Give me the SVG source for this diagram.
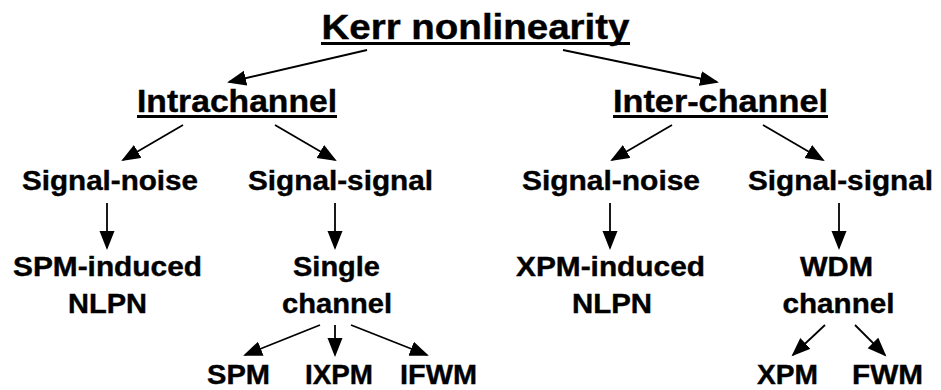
<svg xmlns="http://www.w3.org/2000/svg" width="941" height="390" viewBox="0 0 941 390">
  <style>
    text { font-family: "Liberation Sans", Arial, sans-serif; font-weight: bold; fill: #000; stroke: #000; stroke-width: 0.4; text-anchor: middle; }
    .t0 { font-size: 35px; }
    .t1 { font-size: 32px; }
    .t2 { font-size: 28px; }
    .ul { fill: #000; }
    .conn line { stroke: #000; stroke-width: 1.8; marker-end: url(#ah); }
  </style>
  <defs>
    <marker id="ah" markerUnits="userSpaceOnUse" markerWidth="20" markerHeight="16" refX="17" refY="7.5" orient="auto">
      <path d="M0,0 L19,7.5 L0,15 z" fill="#000"/>
    </marker>
  </defs>
  <rect width="941" height="390" fill="#fff"/>

  <g id="kerr">
    <text class="t0" x="475.5" y="39" textLength="308" lengthAdjust="spacingAndGlyphs">Kerr nonlinearity</text>
    <rect class="ul" x="321" y="42" width="309" height="3"/>
  </g>
  <g id="intrachannel">
    <text class="t1" x="237" y="112" textLength="200" lengthAdjust="spacingAndGlyphs">Intrachannel</text>
    <rect class="ul" x="137" y="115" width="200" height="3"/>
  </g>
  <g id="interchannel">
    <text class="t1" x="720.5" y="112" textLength="215" lengthAdjust="spacingAndGlyphs">Inter-channel</text>
    <rect class="ul" x="613" y="115" width="215" height="3"/>
  </g>
  <g id="intra-signal-noise">
    <text class="t2" x="110" y="190" textLength="176" lengthAdjust="spacingAndGlyphs">Signal-noise</text>
  </g>
  <g id="intra-signal-signal">
    <text class="t2" x="340.5" y="190" textLength="185" lengthAdjust="spacingAndGlyphs">Signal-signal</text>
  </g>
  <g id="inter-signal-noise">
    <text class="t2" x="611" y="190" textLength="178" lengthAdjust="spacingAndGlyphs">Signal-noise</text>
  </g>
  <g id="inter-signal-signal">
    <text class="t2" x="840.5" y="190" textLength="185" lengthAdjust="spacingAndGlyphs">Signal-signal</text>
  </g>
  <g id="spm-nlpn">
    <text class="t2" x="107.5" y="276" textLength="189" lengthAdjust="spacingAndGlyphs">SPM-induced</text>
    <text class="t2" x="107.5" y="313" textLength="79" lengthAdjust="spacingAndGlyphs">NLPN</text>
  </g>
  <g id="single-channel">
    <text class="t2" x="336.5" y="276" textLength="87" lengthAdjust="spacingAndGlyphs">Single</text>
    <text class="t2" x="337" y="313" textLength="110" lengthAdjust="spacingAndGlyphs">channel</text>
  </g>
  <g id="xpm-nlpn">
    <text class="t2" x="610.5" y="276" textLength="189" lengthAdjust="spacingAndGlyphs">XPM-induced</text>
    <text class="t2" x="612" y="313" textLength="80" lengthAdjust="spacingAndGlyphs">NLPN</text>
  </g>
  <g id="wdm-channel">
    <text class="t2" x="836.5" y="276" textLength="73" lengthAdjust="spacingAndGlyphs">WDM</text>
    <text class="t2" x="838.5" y="313" textLength="112" lengthAdjust="spacingAndGlyphs">channel</text>
  </g>
  <g id="spm">
    <text class="t2" x="238.5" y="384" textLength="63" lengthAdjust="spacingAndGlyphs">SPM</text>
  </g>
  <g id="ixpm">
    <text class="t2" x="339" y="384" textLength="68" lengthAdjust="spacingAndGlyphs">IXPM</text>
  </g>
  <g id="ifwm">
    <text class="t2" x="438.5" y="384" textLength="77" lengthAdjust="spacingAndGlyphs">IFWM</text>
  </g>
  <g id="xpm">
    <text class="t2" x="787.5" y="384" textLength="61" lengthAdjust="spacingAndGlyphs">XPM</text>
  </g>
  <g id="fwm">
    <text class="t2" x="887.5" y="384" textLength="71" lengthAdjust="spacingAndGlyphs">FWM</text>
  </g>

  <g id="connectors" class="conn">
    <line x1="367" y1="50" x2="229" y2="82"/>
    <line x1="563" y1="50" x2="717" y2="82"/>
    <line x1="183" y1="125" x2="123" y2="160"/>
    <line x1="275" y1="125" x2="335" y2="160"/>
    <line x1="672" y1="125" x2="612" y2="160"/>
    <line x1="763" y1="125" x2="823" y2="160"/>
    <line x1="107" y1="203" x2="107" y2="248"/>
    <line x1="335" y1="203" x2="335" y2="248"/>
    <line x1="610" y1="203" x2="610" y2="248"/>
    <line x1="839" y1="203" x2="839" y2="248"/>
    <line x1="320" y1="325" x2="245" y2="355"/>
    <line x1="335" y1="325" x2="335" y2="355"/>
    <line x1="351" y1="325" x2="427" y2="355"/>
    <line x1="825" y1="325" x2="793" y2="355"/>
    <line x1="855" y1="325" x2="885" y2="355"/>
  </g>
</svg>
